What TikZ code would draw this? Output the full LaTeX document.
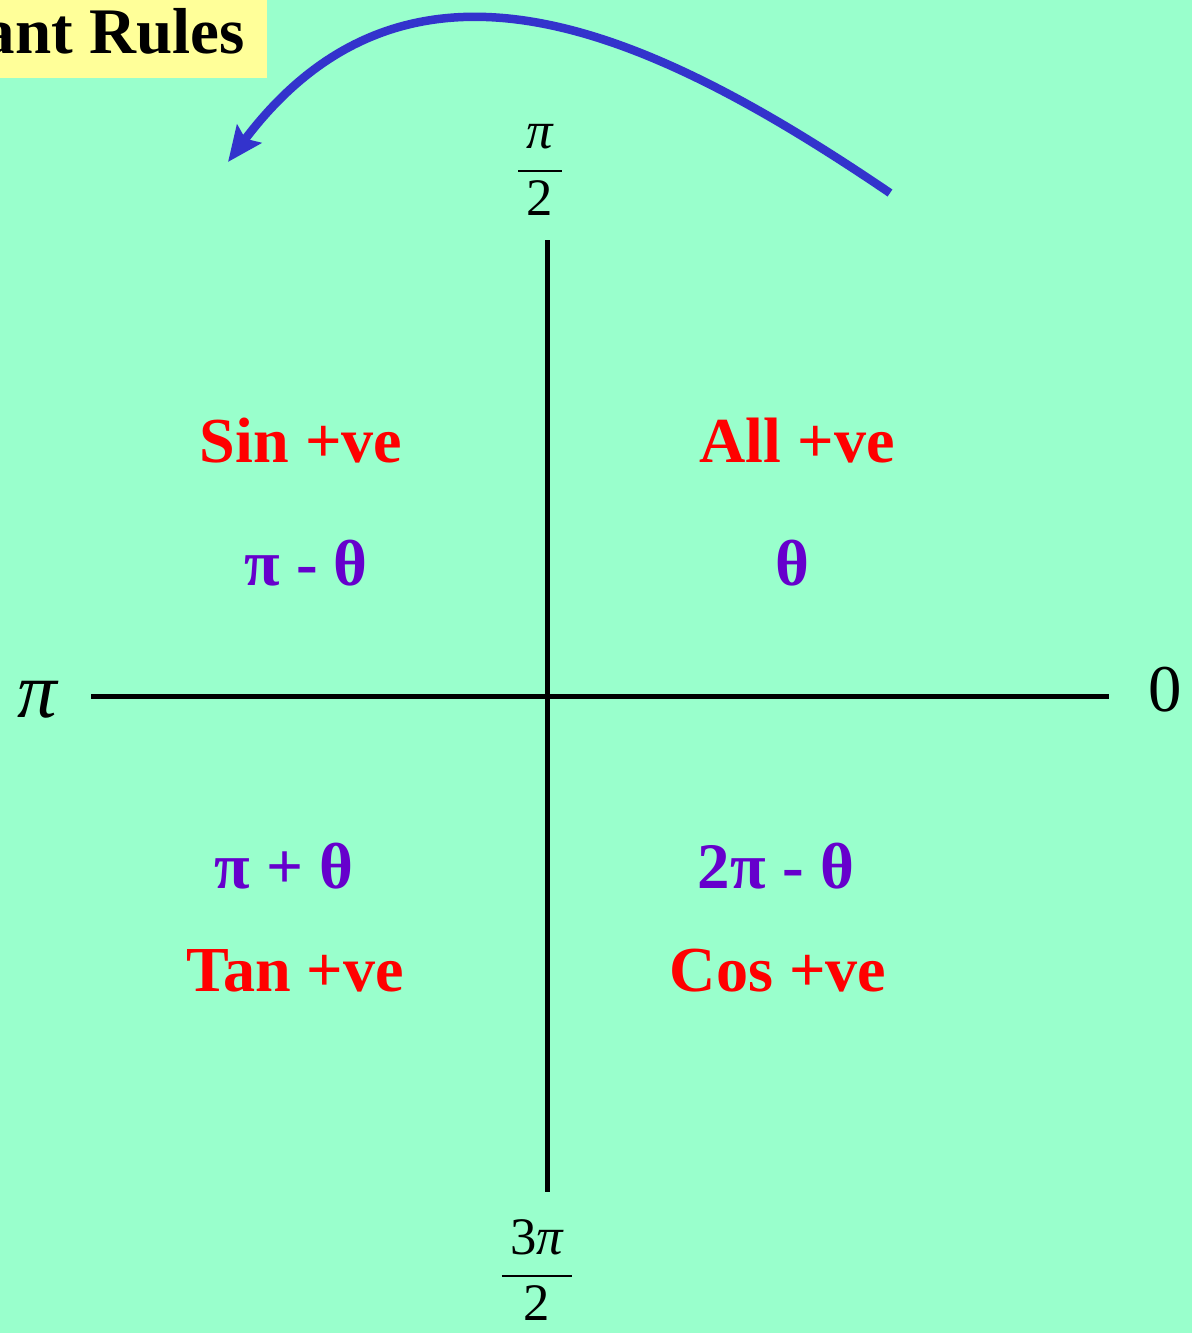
\documentclass[tikz,border=0pt]{standalone}
\usepackage{amsmath}
\usepackage{fontspec}
\setmainfont{Liberation Serif}
\usetikzlibrary{arrows.meta,positioning}
\definecolor{bgmint}{RGB}{153,255,204}
\definecolor{titleyellow}{RGB}{255,255,153}
\definecolor{signred}{RGB}{255,0,0}
\definecolor{anglepurple}{RGB}{102,0,204}
\definecolor{arrowblue}{RGB}{51,51,204}
\newcommand{\axisfrac}[2]{$\genfrac{}{}{1.1pt}{0}{\raisebox{2pt}{\,#1\,}}{\raisebox{-2pt}{\,#2\,}}$}
\tikzset{
  titlebox/.style={
    rectangle,
    fill=titleyellow,
    inner xsep=0.44cm,
    minimum height=1.9cm,
    font=\fontsize{37}{42}\selectfont\bfseries
  },
  signlbl/.style={
    text=signred,
    inner sep=0pt,
    font=\fontsize{36.5}{42}\selectfont\bfseries
  },
  anglelbl/.style={
    text=anglepurple,
    inner sep=0pt,
    font=\fontsize{37}{42}\selectfont\bfseries
  },
  endlbl/.style={
    inner sep=0pt,
    font=\fontsize{38}{44}\selectfont
  },
  fraclbl/.style={
    inner sep=0pt,
    font=\fontsize{30}{36}\selectfont
  },
  axisline/.style={line width=0.1cm, black},
  turnarrow/.style={-{Stealth[length=0.7cm, width=0.6cm, inset=0.12cm]}, line width=0.17cm, arrowblue}
}

\begin{document}
\begin{tikzpicture}[x=0.02cm, y=-0.02cm]
    \fill[bgmint] (0,0) rectangle (1192,1333);
    \useasboundingbox (0,0) rectangle (1192,1333);

    \node[titlebox, anchor=east] (title) at (267,31) {ant Rules};

    % axes
    \coordinate (west) at (91,696);
    \coordinate (east) at (1109,696);
    \coordinate (north) at (547,240);
    \coordinate (south) at (547,1192);
    \draw[axisline] (west) -- (east);
    \draw[axisline] (north) -- (south);

    \node[endlbl, font=\fontsize{45}{50}\selectfont] (pi) at (37,700) {\itshape π};
    \node[endlbl] (zero) at (1165,690) {0};
    \node[fraclbl] (halfpi) at (540,170) {\axisfrac{\itshape π}{2}};
    \node[fraclbl] (threehalfpi) at (537,1270) {\axisfrac{3\itshape π}{2}};

    \node[signlbl] (sin) at (301,441) {Sin +ve};
    \node[signlbl] (all) at (797,441) {All +ve};
    \node[signlbl] (tan) at (295,971) {Tan +ve};
    \node[signlbl] (cos) at (778,971) {Cos +ve};

    \node[anglelbl] (q2) at (306,563) {π - θ};
    \node[anglelbl] (q1) at (792,563) {θ};
    \node[anglelbl] (q3) at (284,866) {π + θ};
    \node[anglelbl] (q4) at (776,866) {2π - θ};

    \coordinate (arrowstart) at (890,193);
    \coordinate (arrowend) at (228,162);
    \draw[turnarrow] (arrowstart) .. controls (650,30) and (410,-80) .. (arrowend);
\end{tikzpicture}
\end{document}
